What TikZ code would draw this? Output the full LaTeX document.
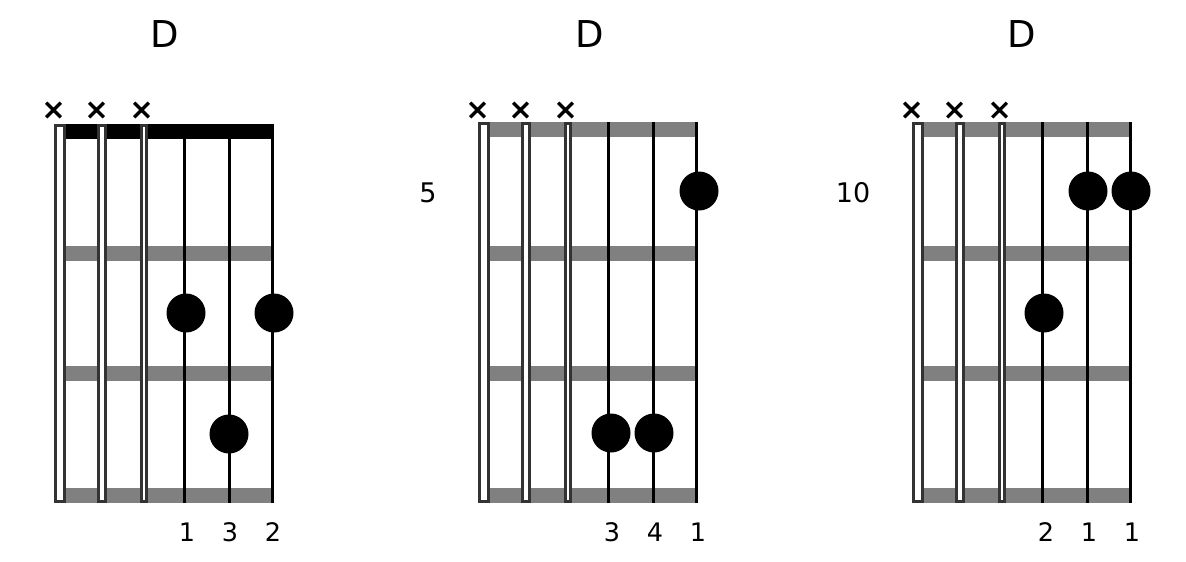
\documentclass[tikz,border=0pt]{standalone}
\usepackage{fontspec}
\setmainfont{DejaVu Sans}
\definecolor{fretgray}{HTML}{808080}
\definecolor{mutegray}{HTML}{333333}
\newcommand{\chordgrid}[3]{%
  \begin{scope}[xshift=#1]
    \foreach \yy in {246,366,488}
      \fill[fretgray] (6,\yy) rectangle (212.5,{\yy+14.7});
    \fill[#3] (6,#2) rectangle (212.5,{#2+14.7});
    \draw[mute] (-4.5,{#2+1.5}) rectangle (4.5,501.5);
    \draw[mute] (38.5,{#2+1.5}) rectangle (45.5,501.5);
    \draw[mute] (81.5,{#2+1.5}) rectangle (86.5,501.5);
    \foreach \xx in {124.5,169.5,212.5}
      \draw[stringline] (\xx,#2) -- (\xx,503);
    \foreach \xx in {-6.5,36.5,81.5}
      \draw[muteX] (\xx-7.3,102.7) -- (\xx+7.3,117.3) (\xx-7.3,117.3) -- (\xx+7.3,102.7);
  \end{scope}}
\begin{document}
\begin{tikzpicture}[x=1pt,y=-1pt,
  mute/.style={draw=mutegray,line width=3pt,fill=white},
  stringline/.style={draw=black,line width=3.2pt},
  muteX/.style={draw=black,line width=3.2pt},
  dot/.style={fill=black},
  title/.style={font=\fontsize{37}{44}\selectfont,inner sep=0pt},
  finger/.style={font=\fontsize{25.5}{30}\selectfont,inner sep=0pt},
  fretno/.style={font=\fontsize{27}{32}\selectfont,inner sep=0pt}]
\useasboundingbox (0,0) rectangle (1186,562);
\fill[white] (0,0) rectangle (1186,562);

% diagram 1
\chordgrid{60}{124}{black}
\fill[dot] (186,313) circle (19.5pt);
\fill[dot] (274,313) circle (19.5pt);
\fill[dot] (229,434) circle (19.5pt);
\node[title] (t1) at (165,34) {D};
\node[finger] (f1a) at (187,532) {1};
\node[finger] (f1b) at (230,532) {3};
\node[finger] (f1c) at (273,532) {2};

% diagram 2
\chordgrid{484}{122}{fretgray}
\fill[dot] (699,191) circle (19.5pt);
\fill[dot] (611,433) circle (19.5pt);
\fill[dot] (654,433) circle (19.5pt);
\node[title] (t2) at (590,34) {D};
\node[fretno] (n2) at (428,193) {5};
\node[finger] (f2a) at (612,532) {3};
\node[finger] (f2b) at (655,532) {4};
\node[finger] (f2c) at (698,532) {1};

% diagram 3
\chordgrid{918}{122}{fretgray}
\fill[dot] (1088,191) circle (19.5pt);
\fill[dot] (1131,191) circle (19.5pt);
\fill[dot] (1044,313) circle (19.5pt);
\node[title] (t3) at (1022,34) {D};
\node[fretno] (n3) at (853,193) {10};
\node[finger] (f3a) at (1046,532) {2};
\node[finger] (f3b) at (1089,532) {1};
\node[finger] (f3c) at (1132,532) {1};
\end{tikzpicture}
\end{document}
